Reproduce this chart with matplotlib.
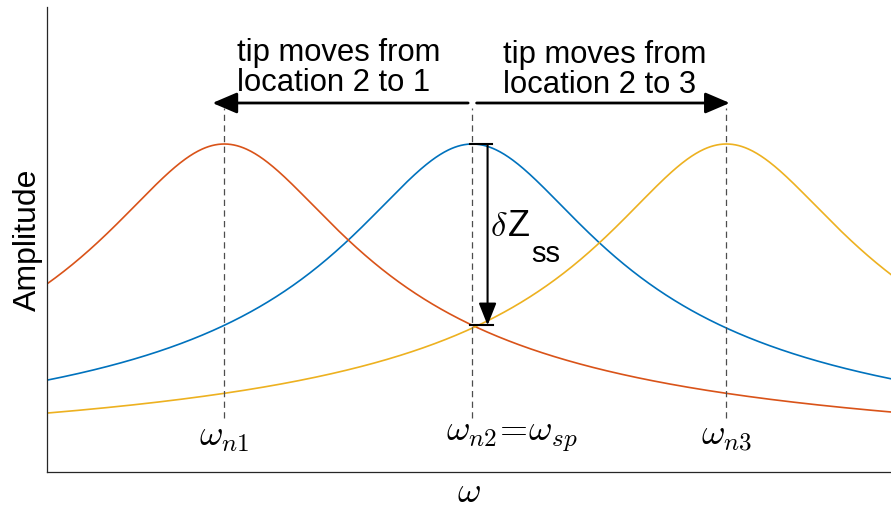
import numpy as np
import matplotlib
matplotlib.use("Agg")
import matplotlib.pyplot as plt

plt.rcParams["mathtext.fontset"] = "cm"
plt.rcParams["font.family"] = ["Liberation Sans", "DejaVu Sans"]

# Resonance peaks of the tip at three locations
location_names = ["location 1", "location 2", "location 3"]
peak_freqs = [0.21, 0.504, 0.805]      # natural frequencies (normalised)
half_width = 0.147                     # half width of each resonance
peak_amp = 1.0
line_colors = ["#D95319", "#0072BD", "#EDB120"]
peak_labels = [r"$\omega_{n1}$", r"$\omega_{n2}\!=\!\omega_{sp}$", r"$\omega_{n3}$"]
draw_order = [1, 0, 2]

def response(w, wn):
    return peak_amp / np.sqrt(1.0 + ((w - wn) / half_width) ** 2)

fig = plt.figure(figsize=(8.91, 5.12), dpi=100)
ax = fig.add_axes([47 / 891, 40 / 512, 844 / 891, 465 / 512])
ax.set_xlim(0, 1)
ax.set_ylim(0, 465 / 328)

w = np.linspace(0, 1, 800)
for i in draw_order:
    ax.plot(w, response(w, peak_freqs[i]), color=line_colors[i], lw=1.2,
            label=location_names[i])

# dashed markers at each natural frequency
for wn in peak_freqs:
    ax.plot([wn, wn], [0.165, 1.11], ls=(0, (5, 3.5)), color="#4d4d4d", lw=0.9)

# frequency labels under the markers
ax.text(peak_freqs[0], 0.107, peak_labels[0], ha="center", va="center", fontsize=26)
ax.text(peak_freqs[1] - 0.031, 0.107, peak_labels[1], ha="left", va="center", fontsize=26)
ax.text(peak_freqs[2], 0.107, peak_labels[2], ha="center", va="center", fontsize=26)

# horizontal arrows: tip moving away from location 2
arrow_y = 1.125
head = dict(arrowstyle="-|>,head_length=0.75,head_width=0.32", color="black", lw=2,
            shrinkA=0, shrinkB=0, mutation_scale=20)
ax.annotate("", xy=(peak_freqs[0] - 0.014, arrow_y), xytext=(peak_freqs[1] - 0.005, arrow_y),
            arrowprops=head)
ax.annotate("", xy=(peak_freqs[2] + 0.004, arrow_y), xytext=(peak_freqs[1] + 0.005, arrow_y),
            arrowprops=head)
ax.text(0.225, 1.322, "tip moves from\nlocation 2 to 1", ha="left", va="top",
        fontsize=22.3, linespacing=1.0)
ax.text(0.54, 1.317, "tip moves from\nlocation 2 to 3", ha="left", va="top",
        fontsize=22.3, linespacing=1.0)

# vertical arrow: amplitude change at the drive frequency
x_arr = peak_freqs[1] + 0.018
y_top = response(peak_freqs[1], peak_freqs[1])
y_bot = response(peak_freqs[1], peak_freqs[0])
ax.annotate("", xy=(x_arr, y_bot), xytext=(x_arr, y_top),
            arrowprops=dict(arrowstyle="-|>,head_length=0.68,head_width=0.27", color="black",
                            lw=1.5, shrinkA=0, shrinkB=0, mutation_scale=20))
ax.plot([x_arr - 0.021, x_arr + 0.005], [y_top, y_top], color="black", lw=1.5)
ax.plot([x_arr - 0.021, x_arr + 0.006], [y_bot, y_bot], color="black", lw=1.5)
ax.text(0.5245, 0.747, r"$\delta$", ha="left", va="center", fontsize=25)
ax.text(0.5455, 0.747, "Z", ha="left", va="center", fontsize=26)
ax.text(0.5735, 0.665, "ss", ha="left", va="center", fontsize=21)

ax.set_xticks([])
ax.set_yticks([])
for side in ("top", "right"):
    ax.spines[side].set_visible(False)
for side in ("left", "bottom"):
    ax.spines[side].set_color("#262626")
    ax.spines[side].set_linewidth(0.9)

ax.set_xlabel(r"$\omega$", fontsize=26, labelpad=2)
ax.set_ylabel("Amplitude", fontsize=23, labelpad=3)

fig.savefig("out.png", dpi=100)
